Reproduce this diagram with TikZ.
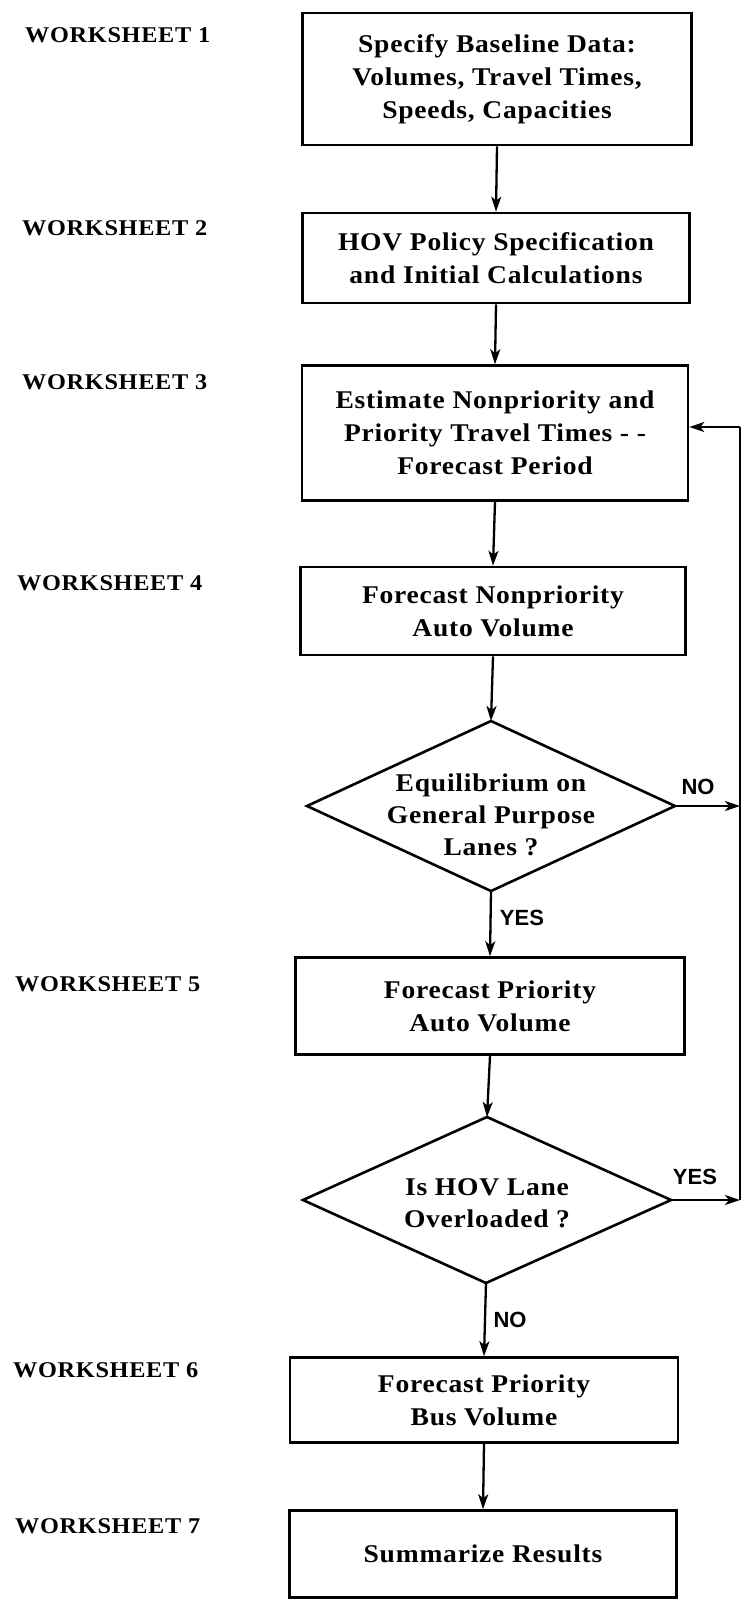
\documentclass[tikz,border=0pt]{standalone}
\usepackage{fontspec}
\setmainfont[FakeStretch=1.08,LetterSpace=3]{Liberation Serif}
\setsansfont{Liberation Sans}
\usetikzlibrary{arrows.meta}
\begin{document}
\begin{tikzpicture}[x=1pt,y=-1pt,
  stepbox/.style={draw,line width=2.6pt,inner sep=0pt,align=center,
    font=\fontsize{25.5}{33}\selectfont\bfseries},
  dtext/.style={inner sep=0pt,align=center,font=\fontsize{25.5}{32}\selectfont\bfseries},
  wslabel/.style={anchor=west,inner sep=0pt,font=\fontsize{22.5}{24}\selectfont\bfseries},
  yn/.style={inner sep=0pt,font=\fontsize{22}{24}\selectfont\sffamily\bfseries},
  arr/.style={line width=2.3pt,-{Stealth[length=15pt,width=10pt,inset=4pt]}},
  conn/.style={line width=2.3pt},
  dshape/.style={draw,line width=2.6pt,line join=miter}
]
\useasboundingbox (0,0) rectangle (744,1600);

% worksheet labels
\node[wslabel] (w1) at (25,35) {WORKSHEET 1};
\node[wslabel] (w2) at (22,228) {WORKSHEET 2};
\node[wslabel] (w3) at (22,382) {WORKSHEET 3};
\node[wslabel] (w4) at (17,583) {WORKSHEET 4};
\node[wslabel] (w5) at (15,984) {WORKSHEET 5};
\node[wslabel] (w6) at (13,1370) {WORKSHEET 6};
\node[wslabel] (w7) at (15,1526) {WORKSHEET 7};

% boxes
\node[stepbox,minimum width=389,minimum height=132] (b1) at (497,79)
  {Specify Baseline Data:\\Volumes, Travel Times,\\Speeds, Capacities};
\node[stepbox,minimum width=387,minimum height=90] (b2) at (496,258)
  {HOV Policy Specification\\and Initial Calculations};
\node[stepbox,minimum width=386,minimum height=135] (b3) at (495,433)
  {Estimate Nonpriority and\\Priority Travel Times - -\\Forecast Period};
\node[stepbox,minimum width=385,minimum height=88] (b4) at (493,611)
  {Forecast Nonpriority\\Auto Volume};

% decision 1
\node[dtext] (d1) at (491,815) {Equilibrium on\\General Purpose\\Lanes ?};
\coordinate (d1t) at (491,721);
\coordinate (d1r) at (675,806);
\coordinate (d1b) at (491,891);
\coordinate (d1l) at (307,806);
\draw[dshape] (d1t) -- (d1r) -- (d1b) -- (d1l) -- cycle;

\node[stepbox,minimum width=389,minimum height=97] (b5) at (490,1006)
  {Forecast Priority\\Auto Volume};

% decision 2
\node[dtext] (d2) at (487,1203) {Is HOV Lane\\Overloaded ?};
\coordinate (d2t) at (487,1117);
\coordinate (d2r) at (671,1200);
\coordinate (d2b) at (486,1283);
\coordinate (d2l) at (303,1200);
\draw[dshape] (d2t) -- (d2r) -- (d2b) -- (d2l) -- cycle;

\node[stepbox,minimum width=388,minimum height=85] (b6) at (484,1400)
  {Forecast Priority\\Bus Volume};
\node[stepbox,minimum width=387,minimum height=87] (b7) at (483,1554)
  {Summarize Results};

% main flow
\draw[arr] (b1.south) -- (b2.north);
\draw[arr] (b2.south) -- (b3.north);
\draw[arr] (b3.south) -- (b4.north);
\draw[arr] (b4.south) -- (d1t);
\draw[arr] (d1b) -- (b5.north);
\draw[arr] (b5.south) -- (d2t);
\draw[arr] (d2b) -- (b6.north);
\draw[arr] (b6.south) -- (b7.north);

% feedback loop
\coordinate (rtop) at (740,427);
\coordinate (rbot) at (740,1200);
\draw[conn] (rbot) -- (rtop);
\draw[arr] (rtop) -- (rtop -| b3.east);
\draw[arr] (d1r) -- (d1r -| rbot);
\draw[arr] (d2r) -- (rbot);

% branch labels
\node[yn] (no1) at (698,787) {NO};
\node[yn] (yes1) at (522,918) {YES};
\node[yn] (yes2) at (695,1177) {YES};
\node[yn] (no2) at (510,1320) {NO};
\end{tikzpicture}
\end{document}
